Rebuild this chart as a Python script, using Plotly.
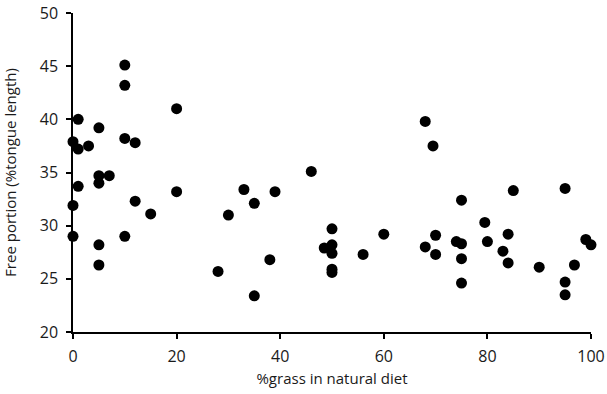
import plotly.graph_objects as go

grass_pct = [0, 0, 0, 1, 1, 1, 3, 5, 5, 5, 5, 5, 7, 10, 10, 10, 10, 12, 12, 15,
             20, 20, 28, 30, 33, 35, 35, 38, 39, 46, 48.5, 50, 50, 50, 50, 50, 56, 60,
             68, 68, 69.5, 70, 70, 74, 75, 75, 75, 75, 79.5, 80, 83, 84, 84, 85, 90,
             95, 95, 95, 96.8, 99, 100]
free_portion = [37.9, 31.9, 29.0, 40.0, 37.2, 33.7, 37.5, 39.2, 34.7, 34.0, 28.2, 26.3, 34.7,
                45.1, 43.2, 38.2, 29.0, 37.8, 32.3, 31.1,
                41.0, 33.2, 25.7, 31.0, 33.4, 32.1, 23.4, 26.8, 33.2, 35.1, 27.9, 29.7, 28.2,
                27.4, 25.9, 25.6, 27.3, 29.2,
                39.8, 28.0, 37.5, 29.1, 27.3, 28.5, 28.3, 32.4, 26.9, 24.6, 30.3, 28.5, 27.6,
                29.2, 26.5, 33.3, 26.1,
                33.5, 24.7, 23.5, 26.3, 28.7, 28.2]

x_ticks = [0, 20, 40, 60, 80, 100]
y_ticks = [20, 25, 30, 35, 40, 45, 50]

FONT = dict(family="Open Sans, Lato, sans-serif", size=16, color="#1a1a1a")
TITLE_FONT = dict(family="Open Sans, Lato, sans-serif", size=15, color="#1a1a1a")

fig = go.Figure()
fig.add_trace(go.Scatter(
    x=grass_pct, y=free_portion, mode="markers",
    marker=dict(color="black", size=11, line=dict(width=0)),
    cliponaxis=False, showlegend=False,
))

axis_common = dict(
    showgrid=False, zeroline=False, showline=True, linecolor="black", linewidth=1.5,
    ticks="outside", ticklen=5, tickwidth=1.5, tickcolor="black",
    tickfont=FONT, automargin=False,
)

fig.update_xaxes(range=[0, 100], tickvals=x_ticks, ticklabelstandoff=4,
                 title=dict(text="%grass in natural diet", font=TITLE_FONT, standoff=8),
                 **axis_common)
fig.update_yaxes(range=[20, 50], tickvals=y_ticks, ticklabelstandoff=5,
                 title=dict(text="Free portion (%tongue length)", font=TITLE_FONT, standoff=24),
                 **axis_common)

fig.update_layout(
    width=607, height=394,
    margin=dict(l=73, r=16, t=13, b=62),
    paper_bgcolor="white", plot_bgcolor="white",
)

fig.write_html("out.html")
